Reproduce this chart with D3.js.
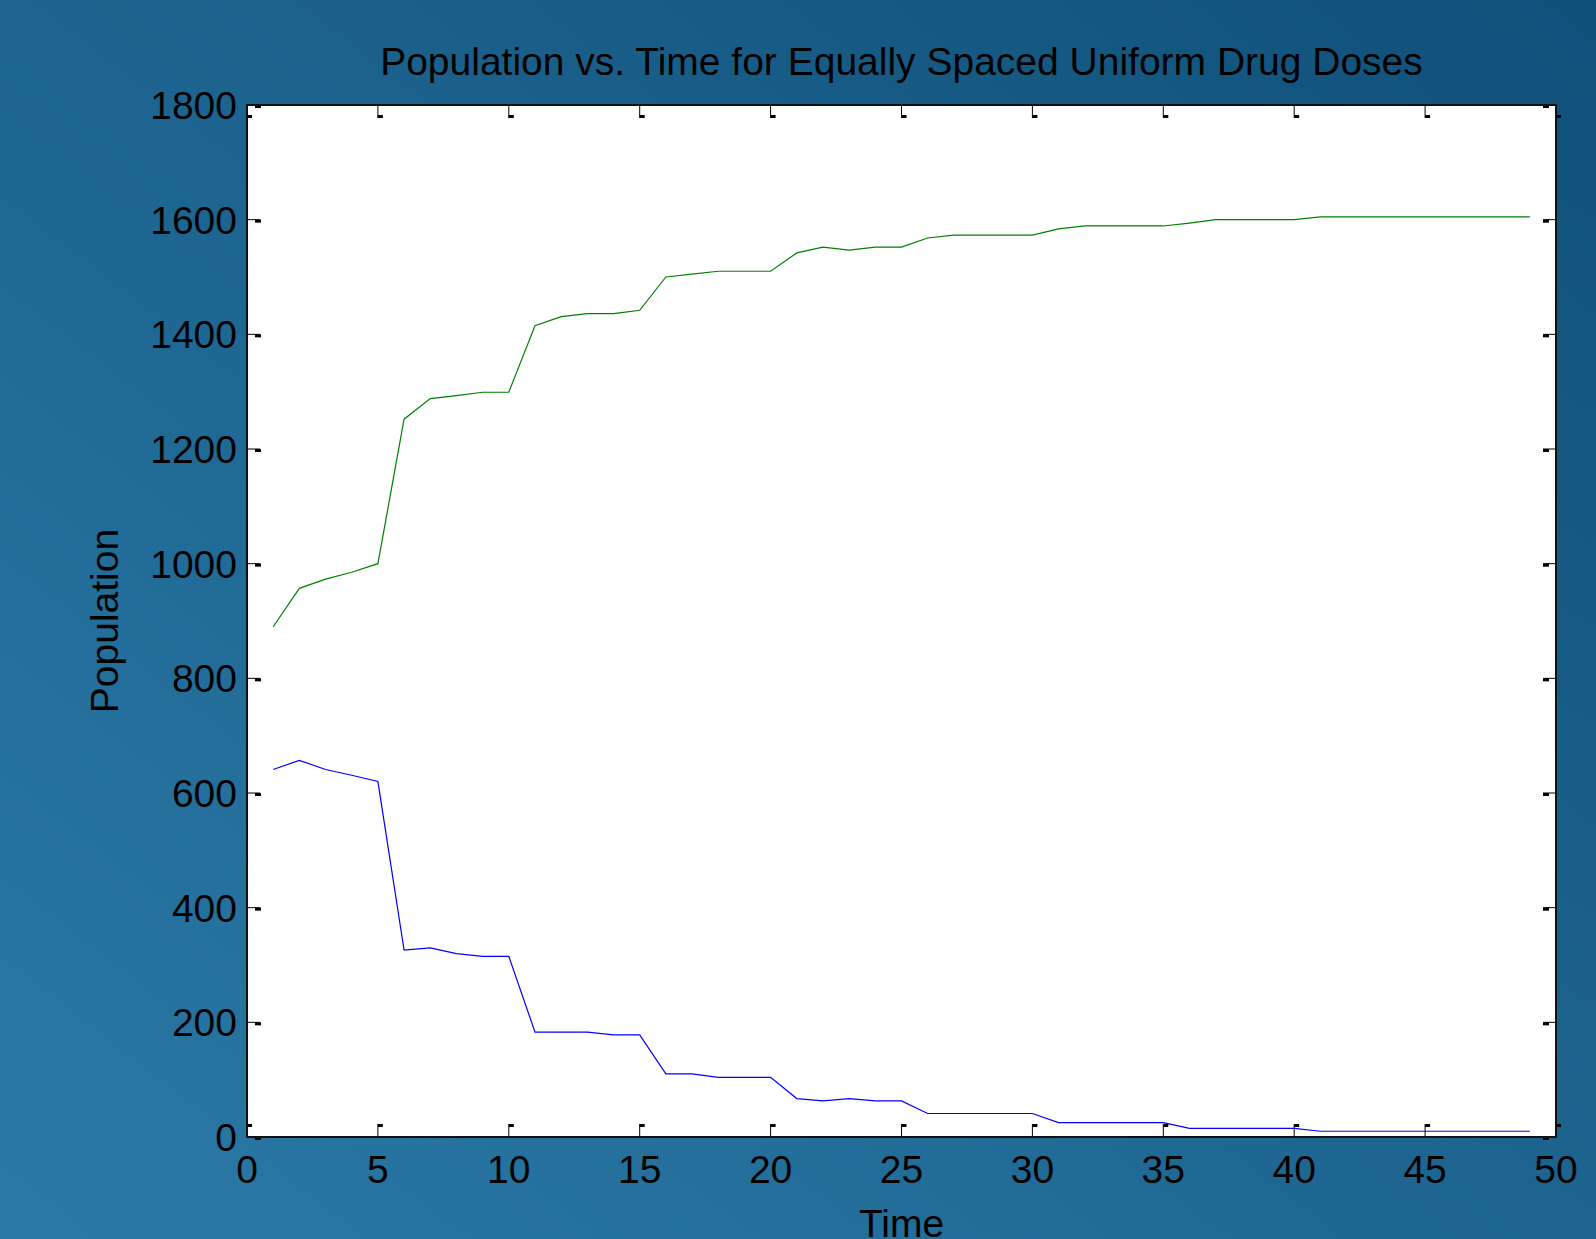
<!DOCTYPE html>
<html>
<head>
<meta charset="utf-8">
<script src="https://cdn.jsdelivr.net/npm/d3@7"></script>
<style>
  html, body { margin: 0; padding: 0; overflow: hidden; }
  svg { display: block; font-family: "Liberation Sans", Arial, sans-serif; }
</style>
</head>
<body>
<div id="chart"></div>
<script>
(function() {
  var WIDTH = 1596, HEIGHT = 1239;

  var title = 'Population vs. Time for Equally Spaced Uniform Drug Doses';
  var xLabel = 'Time', yLabel = 'Population';

  var time = d3.range(1, 50);
  var blue = [641, 657, 641, 631, 620, 326, 330, 320, 315, 315,
              183, 183, 183, 178, 178, 110, 110, 104, 104, 104,
              67, 63, 67, 63, 63, 41, 41, 41, 41, 41,
              25, 25, 25, 25, 25, 15, 15, 15, 15, 15,
              10, 10, 10, 10, 10, 10, 10, 10, 10];
  var green = [890, 957, 973, 985, 1000, 1252, 1288, 1293, 1299, 1299,
               1415, 1431, 1436, 1436, 1442, 1500, 1505, 1510, 1510, 1510,
               1542, 1552, 1547, 1552, 1552, 1568, 1573, 1573, 1573, 1573,
               1584, 1589, 1589, 1589, 1589, 1594, 1600, 1600, 1600, 1600,
               1605, 1605, 1605, 1605, 1605, 1605, 1605, 1605, 1605];
  var xTicks = [0, 5, 10, 15, 20, 25, 30, 35, 40, 45, 50];
  var yTicks = [0, 200, 400, 600, 800, 1000, 1200, 1400, 1600, 1800];

  var left = 247, right = 1556, top = 105, bottom = 1137;

  var svg = d3.select('#chart').append('svg')
    .attr('width', WIDTH)
    .attr('height', HEIGHT);

  var grad = svg.append('defs').append('linearGradient')
    .attr('id', 'bg')
    .attr('x1', '0%').attr('y1', '100%')
    .attr('x2', '100%').attr('y2', '0%');
  grad.append('stop').attr('offset', '0%').attr('stop-color', '#2b79a7');
  grad.append('stop').attr('offset', '100%').attr('stop-color', '#0f5079');

  svg.append('rect')
    .attr('width', WIDTH)
    .attr('height', HEIGHT)
    .style('fill', 'url(#bg)');

  var x = d3.scaleLinear().domain([0, 50]).range([left, right]);
  var y = d3.scaleLinear().domain([0, 1800]).range([bottom, top]);

  svg.append('rect')
    .attr('x', left).attr('y', top)
    .attr('width', right - left).attr('height', bottom - top)
    .style('fill', '#fff');

  var line = d3.line()
    .x(function(d, i) { return x(time[i]); })
    .y(function(d) { return y(d); });

  svg.append('path')
    .datum(blue)
    .attr('d', line)
    .style('fill', 'none')
    .style('stroke', '#0000ff')
    .style('stroke-width', 1.2);

  svg.append('path')
    .datum(green)
    .attr('d', line)
    .style('fill', 'none')
    .style('stroke', '#008000')
    .style('stroke-width', 1.2);

  // inward ticks, MATLAB style
  var TICK = 13;
  var ticks = svg.append('g').style('stroke', '#000');

  xTicks.forEach(function(t) {
    var px = x(t);
    ticks.append('line')
      .attr('x1', px).attr('x2', px)
      .attr('y1', bottom).attr('y2', bottom - TICK)
      .style('stroke-width', 1);
    ticks.append('rect')
      .attr('x', px).attr('y', bottom - TICK)
      .attr('width', 5).attr('height', 3)
      .style('stroke', 'none').style('fill', '#000');
    ticks.append('line')
      .attr('x1', px).attr('x2', px)
      .attr('y1', top).attr('y2', top + TICK)
      .style('stroke-width', 1);
    ticks.append('rect')
      .attr('x', px).attr('y', top + TICK - 3)
      .attr('width', 5).attr('height', 3)
      .style('stroke', 'none').style('fill', '#000');
  });

  yTicks.forEach(function(t) {
    var py = y(t);
    ticks.append('line')
      .attr('x1', left).attr('x2', left + TICK)
      .attr('y1', py).attr('y2', py)
      .style('stroke-width', 1);
    ticks.append('rect')
      .attr('x', left + 8).attr('y', py)
      .attr('width', 6).attr('height', 3)
      .style('stroke', 'none').style('fill', '#000');
    ticks.append('line')
      .attr('x1', right).attr('x2', right - TICK)
      .attr('y1', py).attr('y2', py)
      .style('stroke-width', 1);
    ticks.append('rect')
      .attr('x', right - TICK).attr('y', py)
      .attr('width', 6).attr('height', 3)
      .style('stroke', 'none').style('fill', '#000');
  });

  svg.append('rect')
    .attr('x', left).attr('y', top)
    .attr('width', right - left).attr('height', bottom - top)
    .style('fill', 'none')
    .style('stroke', '#111')
    .style('stroke-width', 2);

  // tick labels
  svg.append('g').selectAll('text')
    .data(xTicks)
    .enter()
      .append('text')
      .attr('x', function(d) { return x(d); })
      .attr('y', bottom + 46)
      .attr('text-anchor', 'middle')
      .style('font-size', '39px')
      .style('fill', '#000')
      .text(function(d) { return d; });

  svg.append('g').selectAll('text')
    .data(yTicks)
    .enter()
      .append('text')
      .attr('x', left - 10)
      .attr('y', function(d) { return y(d) + 14; })
      .attr('text-anchor', 'end')
      .style('font-size', '39px')
      .style('fill', '#000')
      .text(function(d) { return d; });

  svg.append('text')
    .attr('x', (left + right) / 2)
    .attr('y', 75)
    .attr('text-anchor', 'middle')
    .style('font-size', '39px')
    .style('fill', '#000')
    .text(title);

  svg.append('text')
    .attr('x', (left + right) / 2)
    .attr('y', 1237)
    .attr('text-anchor', 'middle')
    .style('font-size', '39px')
    .style('fill', '#000')
    .text(xLabel);

  svg.append('text')
    .attr('transform', 'translate(118,' + ((top + bottom) / 2) + ') rotate(-90)')
    .attr('text-anchor', 'middle')
    .style('font-size', '39px')
    .style('fill', '#000')
    .text(yLabel);
})();
</script>
</body>
</html>
